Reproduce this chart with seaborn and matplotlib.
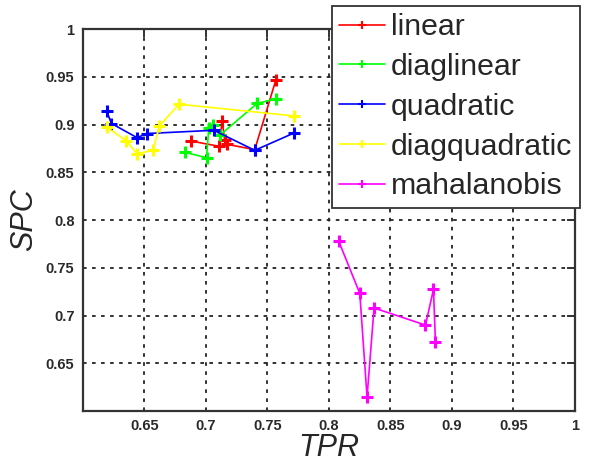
import matplotlib
matplotlib.use("Agg")
import matplotlib.pyplot as plt
import seaborn as sns
import pandas as pd

series_names = ["linear", "diaglinear", "quadratic", "diagquadratic", "mahalanobis"]
series_colors = ["#ff0000", "#00ff00", "#0000ff", "#ffff00", "#ff00ff"]

linear_tpr = [0.6878, 0.7108, 0.7133, 0.7154, 0.7173, 0.7398, 0.7569]
linear_spc = [0.8829, 0.8773, 0.9039, 0.8836, 0.8794, 0.8738, 0.9466]

diaglinear_tpr = [0.6829, 0.7006, 0.7024, 0.7057, 0.7114, 0.7417, 0.7571]
diaglinear_spc = [0.8710, 0.8654, 0.8962, 0.8994, 0.8889, 0.9222, 0.9270]

quadratic_tpr = [0.6193, 0.6233, 0.6441, 0.6523, 0.7065, 0.7398, 0.7718]
quadratic_spc = [0.9144, 0.9012, 0.8864, 0.8907, 0.8941, 0.8731, 0.8913]

diagquadratic_tpr = [0.6193, 0.6355, 0.6441, 0.6572, 0.6620, 0.6783, 0.7718]
diagquadratic_spc = [0.8976, 0.8829, 0.8696, 0.8731, 0.8983, 0.9214, 0.9091]

mahalanobis_tpr = [0.8081, 0.8252, 0.8311, 0.8368, 0.8786, 0.8851, 0.8867]
mahalanobis_spc = [0.7778, 0.7232, 0.6147, 0.7079, 0.6900, 0.7274, 0.6721]

x_ticks = [0.65, 0.7, 0.75, 0.8, 0.85, 0.9, 0.95, 1]
x_ticklabels = ["0.65", "0.7", "0.75", "0.8", "0.85", "0.9", "0.95", "1"]
y_ticks = [0.65, 0.7, 0.75, 0.8, 0.85, 0.9, 0.95, 1]
y_ticklabels = ["0.65", "0.7", "0.75", "0.8", "0.85", "0.9", "0.95", "1"]

all_tpr = [linear_tpr, diaglinear_tpr, quadratic_tpr, diagquadratic_tpr, mahalanobis_tpr]
all_spc = [linear_spc, diaglinear_spc, quadratic_spc, diagquadratic_spc, mahalanobis_spc]

rows = []
for name, xs, ys in zip(series_names, all_tpr, all_spc):
    for i, (x, y) in enumerate(zip(xs, ys)):
        rows.append({"method": name, "TPR": x, "SPC": y, "order": i})
df = pd.DataFrame(rows)

sns.set_style("white")
plt.rcParams["font.family"] = ["Liberation Sans", "DejaVu Sans"]

fig = plt.figure(figsize=(6.0, 4.71), dpi=100)
ax = fig.add_axes([0.138, 0.1274, 0.82, 0.8106])

for name, color in zip(series_names, series_colors):
    sub = df[df["method"] == name]
    sns.lineplot(data=sub, x="TPR", y="SPC", sort=False, estimator=None,
                 color=color, marker="+", markersize=9, markeredgewidth=2.2,
                 markeredgecolor=color, markerfacecolor=color,
                 linewidth=1.2, ax=ax, label=name, legend=False)

ax.set_xlim(0.6, 1.0)
ax.set_ylim(0.6, 1.0)
ax.set_xticks(x_ticks)
ax.set_xticklabels(x_ticklabels)
ax.set_yticks(y_ticks)
ax.set_yticklabels(y_ticklabels)

ax.grid(True, color="#222222", linestyle=(0, (2, 3)), linewidth=1.3)
for s in ax.spines.values():
    s.set_visible(True)
    s.set_color("#333333")
    s.set_linewidth(1.6)

ax.tick_params(axis="both", direction="in", length=6, width=1.4, color="#333333",
               labelsize=10.5, labelcolor="#2a2a2a", pad=6,
               top=True, right=True)
for lab in ax.get_xticklabels() + ax.get_yticklabels():
    lab.set_fontweight("bold")

ax.set_xlabel("TPR", fontsize=22, fontstyle="italic", labelpad=0)
ax.set_ylabel("SPC", fontsize=22, fontstyle="italic", labelpad=5)

handles = ax.get_lines()[:5]
leg = fig.legend(handles=handles, labels=series_names, loc="upper right",
                 bbox_to_anchor=(0.966, 0.988), fontsize=21.8, frameon=True,
                 fancybox=False, edgecolor="#333333", framealpha=1,
                 handlelength=1.5, handletextpad=0.2, labelspacing=0.39,
                 borderpad=0.25, borderaxespad=0.0)
leg.get_frame().set_linewidth(1.3)
for h in leg.legend_handles:
    h.set_markersize(6)
    h.set_markeredgewidth(1.5)

fig.savefig("out.png", dpi=100)
